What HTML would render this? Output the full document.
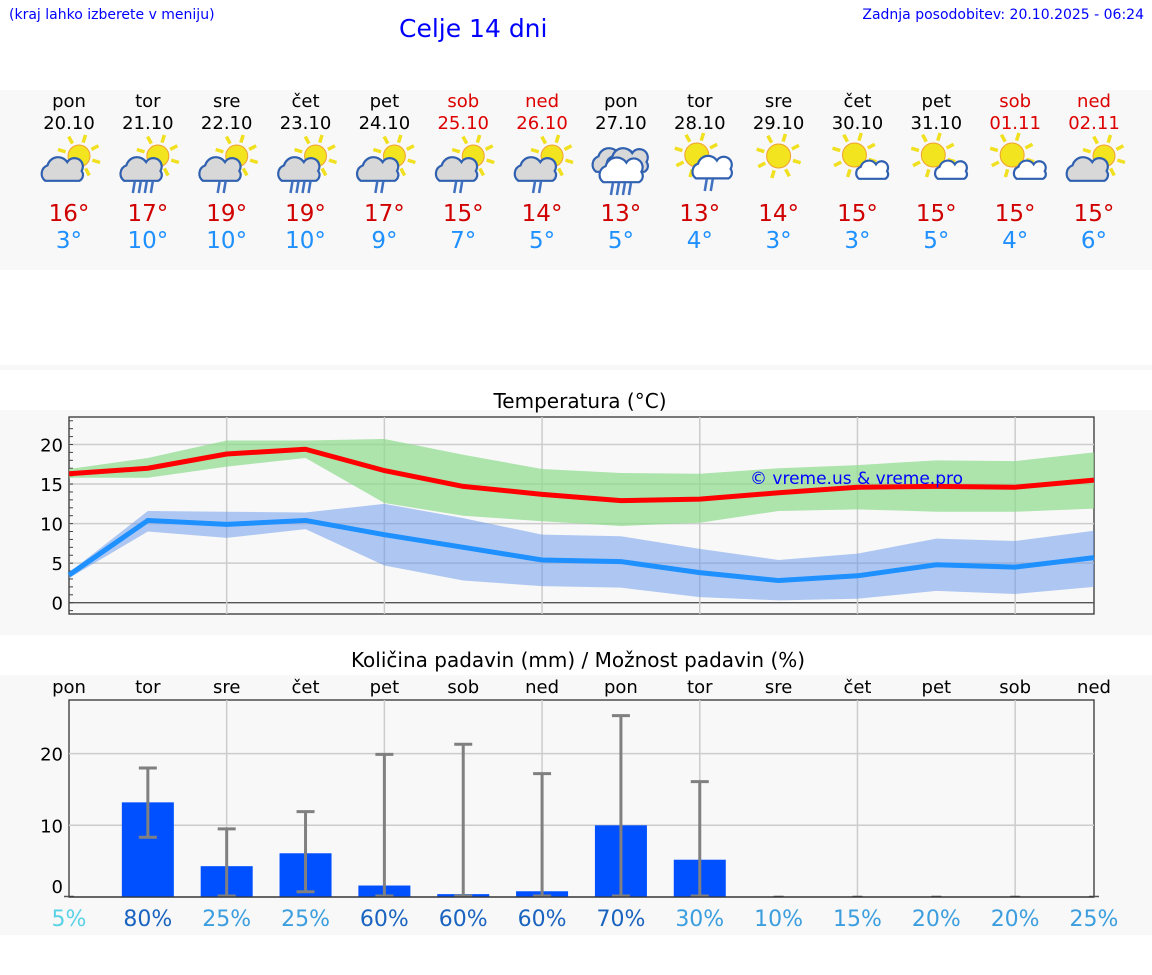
<!DOCTYPE html>
<html><head><meta charset="utf-8"><style>
body{margin:0;width:1152px;height:975px;background:#fff;font-family:"DejaVu Sans","Liberation Sans",sans-serif;overflow:hidden;position:relative}
.t{position:absolute;white-space:nowrap}
</style></head><body>
<div class="t" style="left:9px;top:7px;font-size:14px;color:#00f">(kraj lahko izberete v meniju)</div>
<div class="t" style="left:399px;top:14px;font-size:25px;color:#00f">Celje 14 dni</div>
<div class="t" style="right:8px;top:7px;font-size:14px;color:#00f">Zadnja posodobitev: 20.10.2025 - 06:24</div>
<div style="position:absolute;left:0;top:90px;width:1152px;height:180px;background:#f8f8f8"></div>
<div style="position:absolute;left:0;top:365px;width:1152px;height:5px;background:#f8f8f8"></div>
<div style="position:absolute;left:0;top:410px;width:1152px;height:225px;background:#f8f8f8"></div>
<div style="position:absolute;left:0;top:675px;width:1152px;height:260px;background:#f8f8f8"></div>
<svg id="s" width="1152" height="975" style="position:absolute;left:0;top:0"></svg>
<script>
const days=['pon','tor','sre','čet','pet','sob','ned','pon','tor','sre','čet','pet','sob','ned'];
const dates=['20.10','21.10','22.10','23.10','24.10','25.10','26.10','27.10','28.10','29.10','30.10','31.10','01.11','02.11'];
const weekend=[0,0,0,0,0,1,1,0,0,0,0,0,1,1];
const icons=['pc0','pc4','pc2','pc4','pc2','pc2','pc2','rain4','pw2','sun','pw0','pw0','pw0','pc0'];
const maxLabels=[16,17,19,19,17,15,14,13,13,14,15,15,15,15];
const minLabels=[3,10,10,10,9,7,5,5,4,3,3,5,4,6];
const maxT=[16.3,17.0,18.8,19.4,16.7,14.7,13.7,12.9,13.1,13.9,14.6,14.7,14.6,15.5];
const maxHi=[16.9,18.3,20.5,20.5,20.7,18.7,16.9,16.4,16.3,17.0,17.4,18.0,17.9,19.0];
const maxLo=[15.8,15.8,17.2,18.3,12.6,11.0,10.3,9.7,10.1,11.6,11.8,11.5,11.5,11.9];
const minT=[3.5,10.4,9.9,10.4,8.6,7.0,5.4,5.2,3.8,2.8,3.4,4.8,4.5,5.7];
const minHi=[3.8,11.6,11.5,11.4,12.5,10.7,8.6,8.4,6.8,5.4,6.2,8.1,7.8,9.1];
const minLo=[3.1,9.0,8.2,9.3,4.7,2.8,2.1,1.9,0.7,0.3,0.5,1.5,1.1,2.0];
const precip=[0,13.2,4.3,6.1,1.6,0.4,0.8,10.0,5.2,0,0,0,0,0];
const precipLo=[0,8.2,0,0.6,0,0,0,0,0,0,0,0,0,0];
const precipHi=[0,18.0,9.5,11.9,19.9,21.3,17.2,25.3,16.1,0,0,0,0,0];
const chance=[5,80,25,25,60,60,60,70,30,10,15,20,20,25];
const tempTicks=[0,5,10,15,20];
const precipTicks=[0,10,20];

const S=document.getElementById('s');const NS='http://www.w3.org/2000/svg';
function mk(tag,at,txt){const e=document.createElementNS(NS,tag);for(const k in at)e.setAttribute(k,at[k]);if(txt!==undefined)e.textContent=txt;S.appendChild(e);return e;}
const X=i=>69+i*(1094-69)/13;
const TY=v=>602.7-v*7.91;
const PY=v=>897-v*7.17;
const F='DejaVu Sans,Liberation Sans,sans-serif';

for(let i=0;i<14;i++){
  const x=X(i);const col=weekend[i]?'#d00':'#000';
  let e=mk('text',{x:x,y:107,'text-anchor':'middle','font-size':18,'font-family':F,fill:col},days[i]);
  
  e=mk('text',{x:x,y:129,'text-anchor':'middle','font-size':18,'font-family':F,fill:col},dates[i]);
  
  e=mk('text',{x:x,y:221,'text-anchor':'middle','font-size':23,'font-family':F,fill:'#d00000'},maxLabels[i]+'°');
  
  e=mk('text',{x:x,y:248,'text-anchor':'middle','font-size':23,'font-family':F,fill:'#1e90ff'},minLabels[i]+'°');
  
  drawIcon(x,icons[i]);
}
function sun(cx,cy,r){
  for(let k=0;k<8;k++){const a=k*Math.PI/4+0.3;mk('line',{x1:cx+Math.cos(a)*(r+3),y1:cy+Math.sin(a)*(r+3),x2:cx+Math.cos(a)*(r+11),y2:cy+Math.sin(a)*(r+11),stroke:'#f0e020','stroke-width':3.5});}
  mk('circle',{cx:cx,cy:cy,r:r,fill:'#f2e41e',stroke:'#f0a030','stroke-width':1});
}
function cloud(cx,cy,sc,fill){
  const d=`M${cx-17*sc},${cy+8*sc} a${8*sc},${8*sc} 0 0 1 ${2*sc},${-14*sc} a${10*sc},${10*sc} 0 0 1 ${18*sc},${-3*sc} a${7*sc},${7*sc} 0 0 1 ${13*sc},${8*sc} a${6*sc},${6*sc} 0 0 1 ${-2*sc},${9*sc} z`;
  mk('path',{d:d,fill:fill,stroke:'#3060b0','stroke-width':2.2});
}
function rain(cx,cy,n){for(let k=0;k<n;k++){const dx=cx+(k-(n-1)/2)*6;mk('line',{x1:dx+1,y1:cy,x2:dx-1,y2:cy+12,stroke:'#4070c0','stroke-width':2.5});}}
function drawIcon(x,t){
  if(t.startsWith('pc')){sun(x+10,156,11);cloud(x-5,172,1.1,'#d8d8d8');rain(x-5,181,+t[2]);}
  else if(t.startsWith('pw')){sun(x-3,155,12);if(t==='pw2'){cloud(x+14,170,1.05,'#fff');rain(x+9,179,2);}else cloud(x+16,172,0.85,'#fff');}
  else if(t==='sun'){sun(x,156,12);}
  else {cloud(x-6,163,1.1,'#d8d8d8');cloud(x+8,163,1.1,'#d8d8d8');cloud(x+2,173,1.15,'#fff');rain(x,183,4);}
}

mk('text',{x:580,y:408,'text-anchor':'middle','font-size':20,'font-family':F,fill:'#000'},'Temperatura (°C)');
mk('rect',{x:69,y:417,width:1025,height:197,fill:'#f8f8f8',stroke:'#333','stroke-width':1.3});
for(const v of tempTicks){
  mk('line',{x1:69,x2:1094,y1:TY(v),y2:TY(v),stroke:v===0?'#555':'#ccc','stroke-width':v===0?1.3:1.5});
  const t=mk('text',{x:63,y:TY(v)+7,'text-anchor':'end','font-size':18,'font-family':F,fill:'#000'},v);
  
}
for(let v=-1;v<=23;v++){mk('line',{x1:69,x2:73,y1:TY(v),y2:TY(v),stroke:'#444','stroke-width':1});}
for(let i=2;i<14;i+=2)mk('line',{x1:X(i),x2:X(i),y1:417,y2:614,stroke:'#ccc','stroke-width':1.5});
function band(hi,lo,col,name){let d='M';hi.forEach((v,i)=>d+=X(i)+','+TY(v)+' L');for(let i=lo.length-1;i>=0;i--)d+=X(i)+','+TY(lo[i])+(i?' L':' Z');const p=mk('path',{d:d,fill:col});}
function line(arr,col,name){const p=mk('polyline',{points:arr.map((v,i)=>X(i)+','+TY(v)).join(' '),fill:'none',stroke:col,'stroke-width':5,'stroke-linejoin':'round'});}
band(maxHi,maxLo,'rgba(140,220,140,0.7)','max-temp-range');
band(minHi,minLo,'rgba(100,150,235,0.5)','min-temp-range');
line(maxT,'#ff0000','max-temp-line');
line(minT,'#1e90ff','min-temp-line');
mk('text',{x:750,y:484,'font-size':17,'font-family':F,fill:'#0000ff'},'© vreme.us & vreme.pro');

mk('text',{x:578,y:667,'text-anchor':'middle','font-size':20,'font-family':F,fill:'#000'},'Količina padavin (mm) / Možnost padavin (%)');
for(let i=0;i<14;i++){const t=mk('text',{x:X(i),y:693,'text-anchor':'middle','font-size':18,'font-family':F,fill:'#000'},days[i]);}
mk('rect',{x:69,y:700,width:1025,height:197,fill:'#f8f8f8',stroke:'#333','stroke-width':1.3});
for(const v of precipTicks){
  if(v>0)mk('line',{x1:69,x2:1094,y1:PY(v),y2:PY(v),stroke:'#ccc','stroke-width':1.5});
  const t=mk('text',{x:63,y:PY(v)+(v===0?-4:7),'text-anchor':'end','font-size':18,'font-family':F,fill:'#000'},v);
  
}
for(let i=2;i<14;i+=2)mk('line',{x1:X(i),x2:X(i),y1:700,y2:897,stroke:'#ccc','stroke-width':1.5});
for(let i=0;i<14;i++){
  const x=X(i);
  if(precip[i]>0){const b=mk('rect',{x:x-26,y:PY(precip[i]),width:52,height:897-PY(precip[i]),fill:'#0050ff'});}
  if(precipHi[i]>0){
    const g=mk('path',{d:`M${x},${PY(precipLo[i])} V${PY(precipHi[i])} M${x-9},${PY(precipHi[i])} H${x+9} M${x-9},${PY(precipLo[i])-1} H${x+9}`,stroke:'#808080','stroke-width':3,fill:'none'});
    
  } else mk('line',{x1:x-5,x2:x+5,y1:896.5,y2:896.5,stroke:'#555','stroke-width':1.5});
  const c=chance[i];const col=c<=5?'#5ad2e6':c>=60?'#1a64c0':'#3c9ede';
  const t=mk('text',{x:x,y:926,'text-anchor':'middle','font-size':22,'font-family':F,fill:col},c+'%');
  
}
mk('line',{x1:69,x2:1094,y1:897,y2:897,stroke:'#333','stroke-width':1.3});
</script>
</body></html>
